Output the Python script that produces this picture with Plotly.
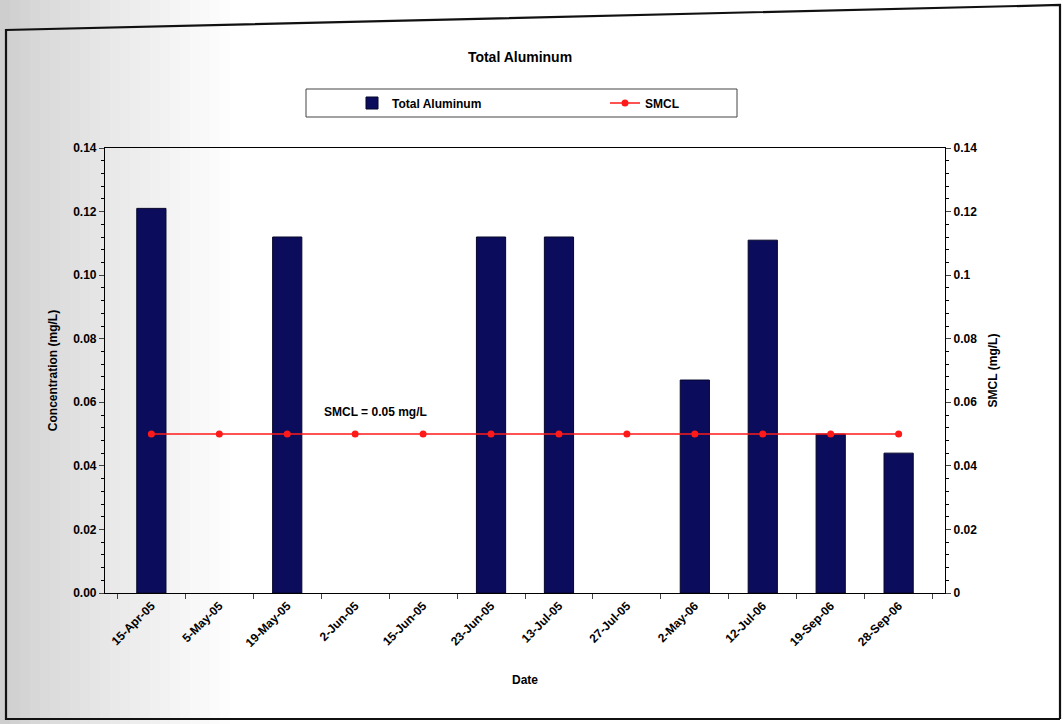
import plotly.graph_objects as go

# Sampling dates and measured results (None = no result reported)
dates = ["15-Apr-05", "5-May-05", "19-May-05", "2-Jun-05", "15-Jun-05", "23-Jun-05",
         "13-Jul-05", "27-Jul-05", "2-May-06", "12-Jul-06", "19-Sep-06", "28-Sep-06"]
total_aluminum = [0.121, None, 0.112, None, None, 0.112, 0.112, None, 0.067, 0.111, 0.050, 0.044]
smcl = [0.05] * len(dates)

left_ticks = [0, 0.02, 0.04, 0.06, 0.08, 0.10, 0.12, 0.14]
left_labels = ["0.00", "0.02", "0.04", "0.06", "0.08", "0.10", "0.12", "0.14"]
right_labels = ["0", "0.02", "0.04", "0.06", "0.08", "0.1", "0.12", "0.14"]

FONT = "Liberation Sans, Arial, sans-serif"
W, H = 1064, 724
L, R, T, B = 105, 945, 148, 593


def px(x):
    return (x - L) / (R - L)


def py(y):
    return (B - y) / (B - T)


fig = go.Figure()
fig.add_trace(go.Bar(
    x=dates, y=total_aluminum, name="Total Aluminum",
    marker=dict(color="#0c0c5c", line=dict(color="#05052a", width=1)),
))
fig.add_trace(go.Scatter(
    x=dates, y=smcl, name="SMCL", yaxis="y2", mode="lines+markers",
    line=dict(color="#ff1a1a", width=1.6),
    marker=dict(color="#ff1a1a", size=7),
))

shapes = []
# soft grey shading fading in from the left edge of the page
steps = 24
for i in range(steps):
    g = int(206 + (255 - 206) * (i / (steps - 1)) ** 0.8)
    shapes.append(dict(type="rect", xref="paper", yref="paper", layer="below",
                       x0=px(i * 10), x1=px(i * 10 + 10), y0=py(H), y1=py(0),
                       fillcolor=f"rgb({g},{g},{g})", line=dict(width=0)))
# outer chart frame
shapes.append(dict(type="path", xref="paper", yref="paper", layer="above",
                   path=f"M {px(1060)} {py(719)} L {px(6)} {py(719)} L {px(6)} {py(30)} "
                        f"L {px(1060)} {py(5)} L {px(1060)} {py(719)}",
                   line=dict(color="#111111", width=2.2)))
# legend box
shapes.append(dict(type="rect", xref="paper", yref="paper",
                   x0=px(306), x1=px(737), y0=py(117), y1=py(89),
                   fillcolor="rgba(0,0,0,0)", line=dict(color="#444444", width=1)))

fig.update_layout(
    width=W, height=H,
    margin=dict(l=L, r=W - R, t=T, b=H - B),
    paper_bgcolor="white", plot_bgcolor="rgba(0,0,0,0)",
    font=dict(family=FONT, size=12, color="black", weight="bold"),
    title=dict(text="Total Aluminum", xref="container", yref="container",
               x=520 / W, y=1 - 57 / H, xanchor="center", yanchor="middle",
               font=dict(size=14, family=FONT, weight="bold")),
    bargap=0.57,
    showlegend=True,
    legend=dict(orientation="h", xref="container", yref="container",
                x=352 / W, y=1 - 103 / H, xanchor="left", yanchor="middle",
                bgcolor="rgba(0,0,0,0)", borderwidth=0,
                entrywidth=208, font=dict(size=12, family=FONT, weight="bold")),
    xaxis=dict(
        type="category", title=dict(text="Date", standoff=26, font=dict(size=12)),
        tickangle=-45, ticks="outside", tickson="boundaries", ticklen=5,
        showline=True, linecolor="black", linewidth=1.2, mirror=True,
        showgrid=False, tickfont=dict(size=12),
    ),
    yaxis=dict(
        title=dict(text="Concentration (mg/L)", font=dict(size=12), standoff=12),
        range=[0, 0.14], tickvals=left_ticks, ticktext=left_labels,
        ticks="outside", ticklen=5, showline=True, linecolor="black", linewidth=1.2,
        showgrid=False, zeroline=False,
        minor=dict(dtick=0.004, ticks="outside", ticklen=3, tickcolor="black"),
    ),
    yaxis2=dict(
        title=dict(text="SMCL (mg/L)", font=dict(size=12), standoff=12),
        overlaying="y", side="right",
        range=[0, 0.14], tickvals=left_ticks, ticktext=right_labels,
        ticks="outside", ticklen=5, showline=True, linecolor="black", linewidth=1.2,
        showgrid=False, zeroline=False,
        minor=dict(dtick=0.004, ticks="outside", ticklen=3, tickcolor="black"),
    ),
    shapes=shapes,
    annotations=[dict(
        text="SMCL = 0.05 mg/L", x=3.3, y=0.057, xref="x", yref="y2",
        showarrow=False, font=dict(size=12, family=FONT, weight="bold"),
    )],
)

fig.write_html("out.html")
